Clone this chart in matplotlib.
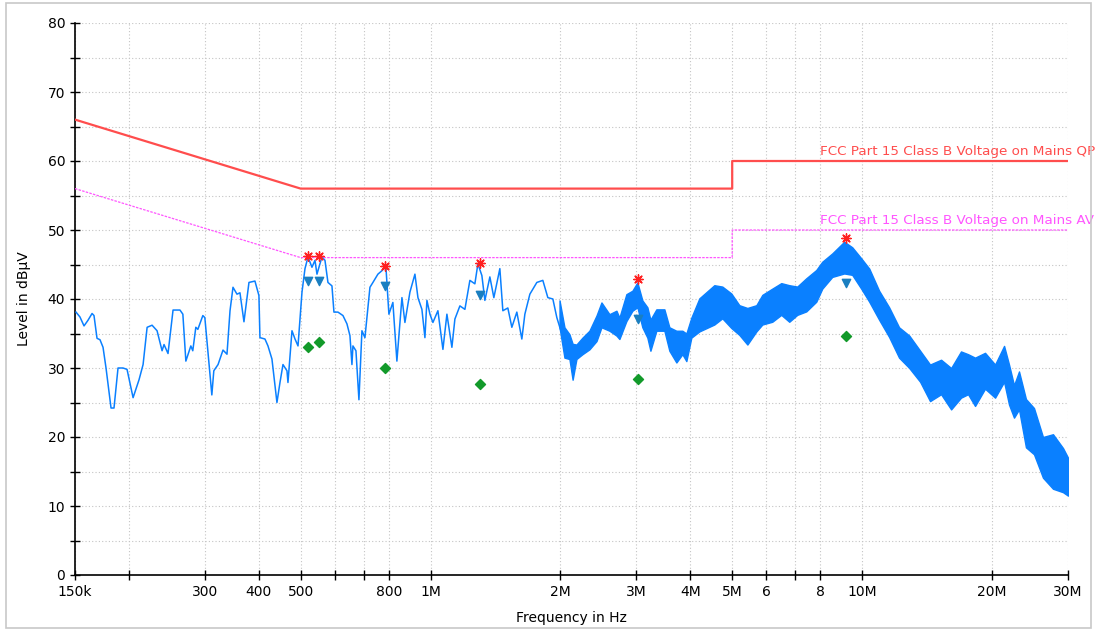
import matplotlib.pyplot as plt
from matplotlib.patches import Rectangle
from matplotlib.ticker import FixedLocator, NullFormatter, MultipleLocator

# measured scan, low band (MHz, dBuV) - single trace
trace_f = [0.1508, 0.1540, 0.1574, 0.1607, 0.1643, 0.1660, 0.1687, 0.1714, 0.1742, 0.1770,
           0.1818, 0.1847, 0.1887, 0.1938, 0.1980, 0.2045, 0.2111, 0.2157, 0.2204, 0.2263,
           0.2324, 0.2387, 0.2412, 0.2464, 0.2531, 0.2626, 0.2667, 0.2710, 0.2783, 0.2812,
           0.2858, 0.2889, 0.2967, 0.2999, 0.3113, 0.3146, 0.3218, 0.3304, 0.3375, 0.3430,
           0.3485, 0.3560, 0.3617, 0.3695, 0.3795, 0.3918, 0.4002, 0.4024, 0.4133, 0.4200,
           0.4290, 0.4406, 0.4478, 0.4550, 0.4648, 0.4673, 0.4774, 0.4852, 0.4930, 0.5036,
           0.5117, 0.5200, 0.5311, 0.5397, 0.5455, 0.5602, 0.5693, 0.5784, 0.5909, 0.5972,
           0.6101, 0.6266, 0.6401, 0.6504, 0.6574, 0.6609, 0.6716, 0.6824, 0.6934, 0.7046,
           0.7237, 0.7353, 0.7551, 0.7714, 0.7880, 0.8007, 0.8179, 0.8356, 0.8584, 0.8722,
           0.8958, 0.9200, 0.9349, 0.9549, 0.9704, 0.9808, 0.9967, 1.0127, 1.0400, 1.0682,
           1.0912, 1.1206, 1.1387, 1.1695, 1.2011, 1.2335, 1.2668, 1.2873, 1.3150, 1.3362,
           1.3723, 1.4018, 1.4474, 1.4707, 1.5104, 1.5430, 1.5847, 1.6275, 1.6540, 1.6987,
           1.7631, 1.8205, 1.8698, 1.9205, 1.9618, 2.0042]
trace_db = [38.1, 37.4, 36.1, 36.9, 37.9, 37.6, 34.3, 34.1, 33.0, 30.0,
            24.2, 24.2, 30.0, 30.0, 29.8, 25.7, 28.3, 30.5, 35.9, 36.2,
            35.4, 32.5, 33.4, 32.1, 38.4, 38.4, 37.8, 31.0, 33.2, 32.5,
            35.9, 35.6, 37.6, 37.3, 26.1, 29.6, 30.5, 32.6, 32.0, 38.3,
            41.7, 40.7, 40.9, 36.7, 42.4, 42.6, 40.5, 34.4, 34.2, 33.2,
            31.3, 25.0, 27.9, 30.5, 29.6, 27.9, 35.4, 34.2, 33.2, 41.0,
            44.4, 46.1, 44.6, 45.6, 43.6, 46.1, 45.6, 42.4, 41.9, 38.1,
            38.1, 37.6, 36.4, 34.7, 30.5, 33.2, 32.5, 25.4, 35.4, 34.4,
            41.7, 42.4, 43.6, 44.1, 44.7, 37.8, 39.5, 31.0, 40.2, 36.6,
            41.0, 43.6, 40.2, 38.5, 34.4, 39.8, 37.8, 36.6, 38.3, 32.7,
            37.8, 33.0, 37.1, 39.0, 38.5, 42.7, 42.2, 45.1, 43.4, 39.8,
            43.2, 40.2, 44.4, 38.3, 38.7, 35.9, 38.1, 34.2, 37.8, 40.7,
            42.4, 42.7, 40.2, 40.0, 37.3, 35.4]

# high band is a dense noise band: upper / lower envelope
band_f = [1.99, 2.043, 2.098, 2.134, 2.178, 2.249, 2.334, 2.424, 2.489, 2.597,
          2.696, 2.739, 2.843, 2.936, 3.015, 3.096, 3.18, 3.232, 3.336, 3.482,
          3.576, 3.712, 3.833, 3.915, 4.021, 4.197, 4.545, 4.743, 4.976, 5.194,
          5.422, 5.688, 5.873, 6.192, 6.496, 6.78, 7.075, 7.423, 7.83, 8.085,
          8.526, 9.09, 9.486, 9.953, 10.39, 10.95, 11.55, 12.18, 12.86, 13.63,
          14.37, 15.24, 16.08, 16.95, 17.6, 18.27, 19.27, 20.33, 21.33, 21.9,
          22.49, 23.1, 23.97, 25.02, 26.25, 27.69, 29.21, 30.0]
band_hi = [39.8, 35.9, 34.9, 33.5, 33.4, 34.4, 35.4, 37.6, 39.5, 37.8,
           38.3, 37.3, 40.7, 41.2, 42.4, 39.8, 38.8, 37.0, 38.5, 38.5,
           35.9, 35.4, 35.4, 35.0, 37.3, 40.1, 42.0, 41.8, 40.8, 39.1,
           38.7, 39.1, 40.6, 41.5, 42.3, 42.0, 41.8, 43.0, 44.2, 45.4,
           46.6, 48.3, 47.5, 45.9, 44.4, 41.2, 38.8, 35.9, 34.7, 32.5,
           30.5, 31.2, 30.0, 32.4, 32.0, 31.5, 32.2, 30.5, 33.2, 30.5,
           27.5, 29.5, 25.5, 24.2, 20.0, 20.4, 18.4, 17.0]
band_lo = [35.9, 31.5, 31.3, 28.3, 31.3, 32.0, 32.7, 33.9, 35.9, 35.4,
           34.7, 34.2, 36.8, 38.3, 38.8, 35.9, 34.4, 32.5, 35.4, 35.4,
           32.5, 30.8, 32.0, 31.0, 34.4, 35.3, 36.3, 37.2, 35.8, 34.8,
           33.4, 35.3, 36.3, 36.7, 37.7, 36.7, 37.7, 38.2, 39.6, 41.5,
           43.2, 43.7, 43.5, 41.5, 39.6, 37.0, 34.5, 31.5, 30.0, 28.0,
           25.2, 26.2, 24.0, 25.7, 26.2, 24.5, 27.0, 25.7, 28.0, 24.7,
           22.8, 24.0, 18.5, 17.5, 14.1, 12.5, 12.0, 11.5]

# limit lines
limit_f = [0.15, 0.5, 5.0, 5.0, 30.0]
limit_qp = [66, 56, 56, 60, 60]
limit_av = [56, 46, 46, 50, 50]

# final measurement points
peak_f = [0.519, 0.551, 0.783, 1.30, 3.02, 9.18]
peak_db = [46.2, 46.2, 44.8, 45.2, 42.9, 48.8]
qp_db = [42.6, 42.6, 41.9, 40.6, 37.1, 42.3]
av_db = [33.0, 33.8, 30.0, 27.7, 28.4, 34.6]

major_ticks = [0.15, 0.3, 0.4, 0.5, 0.8, 1, 2, 3, 4, 5, 6, 8, 10, 20, 30]
major_labels = ['150k', '300', '400', '500', '800', '1M', '2M', '3M', '4M', '5M',
                '6', '8', '10M', '20M', '30M']
minor_ticks = [0.2, 0.6, 0.7, 7]

BLUE = '#0a80ff'
QP_RED = '#ff4d4d'
AV_MAG = '#ff55ff'

fig = plt.figure(figsize=(10.98, 6.31), dpi=100)
fig.patches.append(Rectangle((6 / 1098, 3 / 631), 1085 / 1098, 625 / 631,
                             transform=fig.transFigure, fill=False,
                             edgecolor='#c8c8c8', linewidth=1.2))
ax = fig.add_axes([75 / 1098, 56 / 631, 993 / 1098, 552 / 631])

ax.plot(trace_f, trace_db, color=BLUE, linewidth=1.1, zorder=3)
ax.fill_between(band_f, band_lo, band_hi, color=BLUE, linewidth=1.0,
                edgecolor=BLUE, zorder=3)

ax.plot(limit_f, limit_qp, color=QP_RED, linewidth=1.6, zorder=4)
ax.plot(limit_f, limit_av, color=AV_MAG, linewidth=0.9,
        linestyle=(0, (2, 1)), zorder=4)
ax.text(8.0, 60.5, 'FCC Part 15 Class B Voltage on Mains QP', color=QP_RED,
        fontsize=9.7, va='bottom', ha='left', clip_on=False)
ax.text(8.0, 50.5, 'FCC Part 15 Class B Voltage on Mains AV', color=AV_MAG,
        fontsize=9.7, va='bottom', ha='left', clip_on=False)

ax.scatter(peak_f, peak_db, marker=(8, 2, 0), s=45, color='#ff2020',
           linewidths=1.0, zorder=6)
ax.scatter(peak_f, qp_db, marker='v', s=36, color='#1a7fc0', zorder=5)
ax.scatter(peak_f, av_db, marker='D', s=26, color='#129a2a', zorder=5)

ax.set_xscale('log')
ax.set_xlim(0.15, 30)
ax.set_ylim(0, 80)
ax.xaxis.set_major_locator(FixedLocator(major_ticks))
ax.set_xticklabels(major_labels)
ax.xaxis.set_minor_locator(FixedLocator(minor_ticks))
ax.xaxis.set_minor_formatter(NullFormatter())
ax.yaxis.set_major_locator(MultipleLocator(10))
ax.yaxis.set_minor_locator(MultipleLocator(5))

ax.tick_params(which='both', direction='inout', length=7, width=1, labelsize=10)
ax.tick_params(axis='x', which='both', pad=4)
ax.grid(True, which='both', color='#c4c4c4', linestyle=(0, (1, 2)), linewidth=0.8)
ax.set_axisbelow(True)

for side in ('top', 'right'):
    ax.spines[side].set_visible(False)
for side in ('left', 'bottom'):
    ax.spines[side].set_linewidth(1.2)

ax.set_xlabel('Frequency in Hz', fontsize=10, labelpad=8)
ax.set_ylabel('Level in dBµV', fontsize=10, labelpad=12)

fig.savefig('out.png', dpi=100)
